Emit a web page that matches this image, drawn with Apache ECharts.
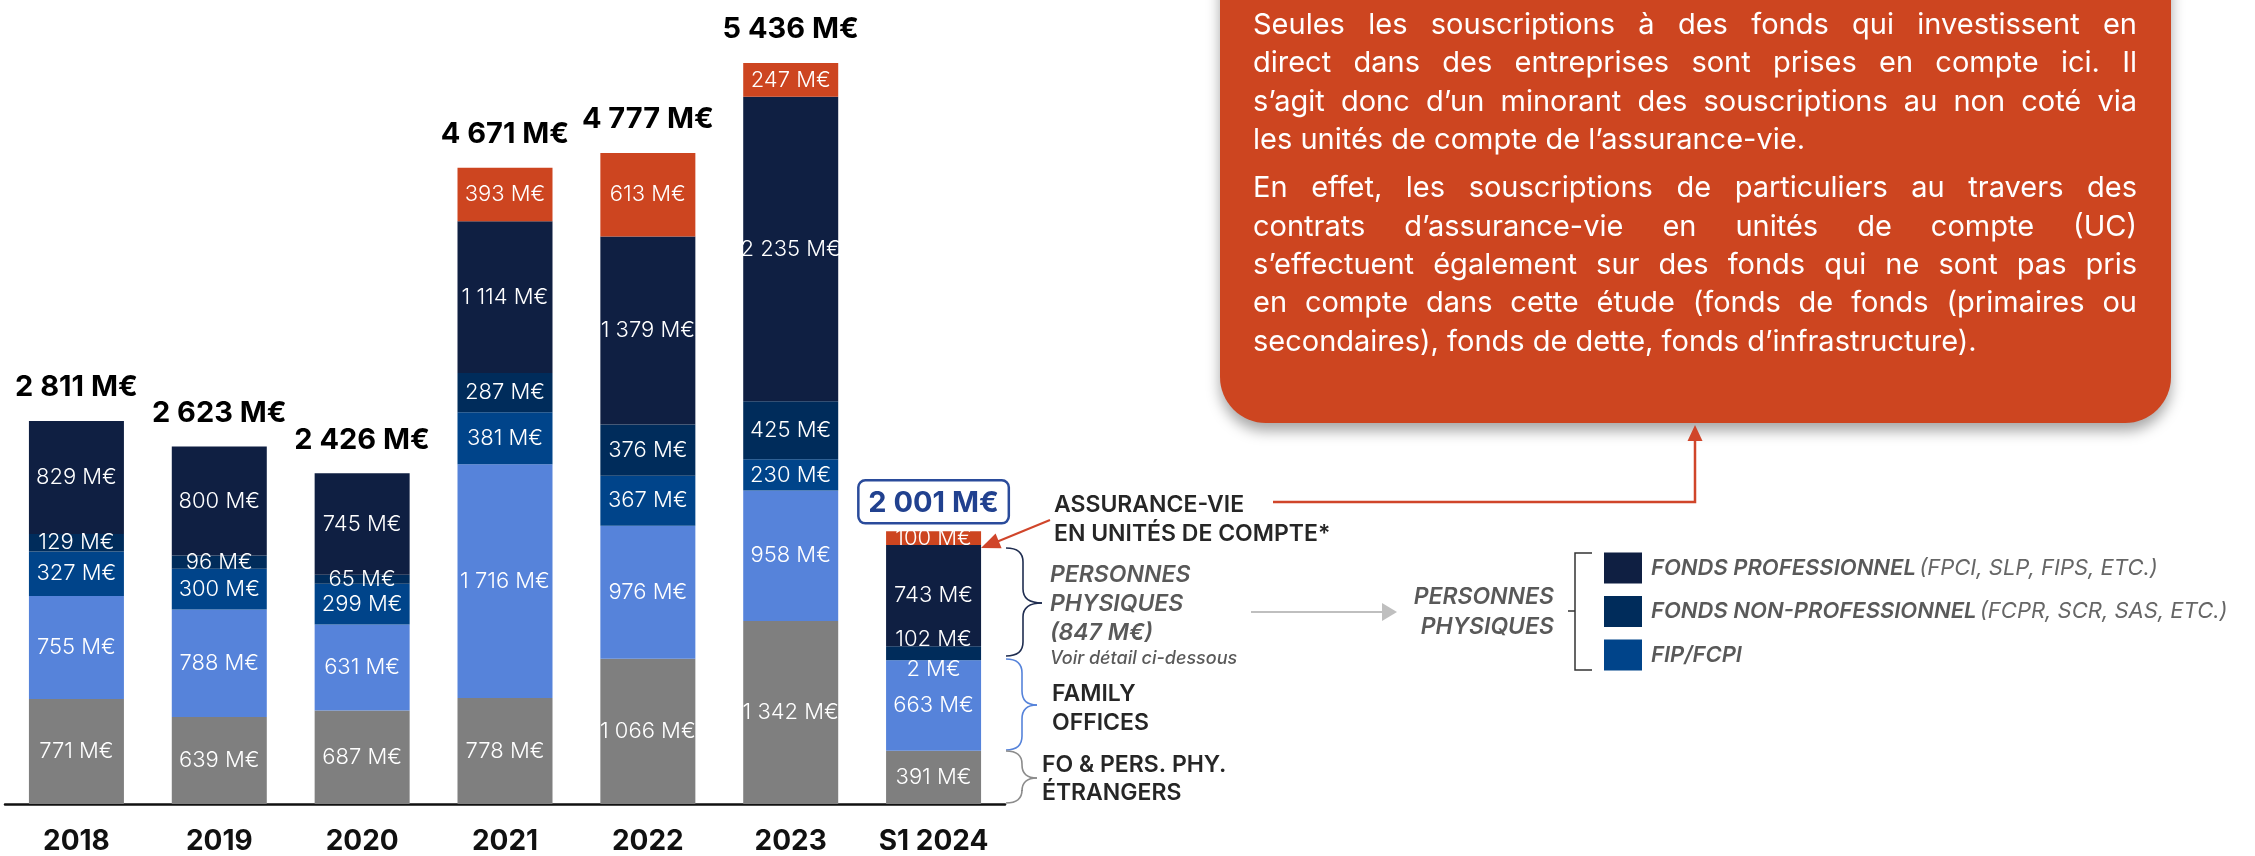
<!DOCTYPE html>
<html>
<head>
<meta charset="utf-8">
<script src="https://cdn.jsdelivr.net/npm/echarts@6/dist/echarts.min.js"></script>
<style>
  html, body { margin: 0; padding: 0; background: #fff; }
  #chart { width: 2255px; height: 856px; }
</style>
</head>
<body>
<div id="chart"></div>
<script>
// values (M€)
const categories = ['2018', '2019', '2020', '2021', '2022', '2023', 'S1 2024'];
const etrangers = [771, 639, 687, 778, 1066, 1342, 391];
const familyOffices = [755, 788, 631, 1716, 976, 958, 663];
const fipFcpi = [327, 300, 299, 381, 367, 230, 2];
const fondsNonPro = [129, 96, 65, 287, 376, 425, 102];
const fondsPro = [829, 800, 745, 1114, 1379, 2235, 743];
const assuranceVie = [null, null, null, 393, 613, 247, 100];
const totals = [2811, 2623, 2426, 4671, 4777, 5436, 2001];

const noteLines = [
  ['Seules les souscriptions à des fonds qui investissent en',
   'direct dans des entreprises sont prises en compte ici. Il',
   's’agit donc d’un minorant des souscriptions au non coté via',
   'les unités de compte de l’assurance-vie.'],
  ['En effet, les souscriptions de particuliers au travers des',
   'contrats d’assurance-vie en unités de compte (UC)',
   's’effectuent également sur des fonds qui ne sont pas pris',
   'en compte dans cette étude (fonds de fonds (primaires ou',
   'secondaires), fonds de dette, fonds d’infrastructure).']
];

const FONT = 'Inter';
const C = {
  gray: '#7f7f7f', light: '#5683da', fip: '#00448a', nonpro: '#002c5b',
  pro: '#0f1f42', orange: '#cd4520', dark: '#262626', mid: '#595959'
};

const chart = echarts.init(document.getElementById('chart'), null, { renderer: 'canvas' });

const thousands = v => String(v).replace(/\B(?=(\d{3})+(?!\d))/g, ' ');

// a few labels in S1 2024 are nudged off-centre in the original
const labelNudge = { fip: { 6: [0, 9] }, nonpro: { 6: [0, -14] } };

function stackSeries(key, name, data, color) {
  const nudge = labelNudge[key] || {};
  return {
    name, type: 'bar', stack: 'all', barWidth: '66.5%', barGap: '-100%',
    data: data.map((v, i) => nudge[i] ? { value: v, label: { offset: nudge[i] } } : v),
    itemStyle: { color },
    label: {
      show: true, position: 'inside', color: '#fff',
      fontFamily: FONT, fontWeight: 300, fontSize: 22,
      formatter: p => thousands(p.value) + ' M€'
    },
    emphasis: { disabled: true }
  };
}

const totalSeries = {
  name: 'total', type: 'bar', barWidth: '66.5%', barGap: '-100%', silent: true, z: 1,
  itemStyle: { color: 'rgba(0,0,0,0)' },
  data: totals.map((v, i) => i === totals.length - 1 ? {
    value: v,
    label: {
      color: '#21418f', borderColor: '#2a4b9b', borderWidth: 2.5, borderRadius: 7,
      padding: [8, 10, 6, 10], distance: 8
    }
  } : v),
  label: {
    show: true, position: 'top', distance: 19, color: '#000',
    fontFamily: FONT, fontWeight: 700, fontSize: 29,
    formatter: p => thousands(p.value) + ' M€'
  }
};

// ---- annotation graphics ----
const graphics = [];

function txt(x, y, text, style) {
  graphics.push({
    type: 'text', x, y, silent: true,
    style: Object.assign({ text, fontFamily: FONT, verticalAlign: 'middle', align: 'left' }, style)
  });
}
function line(x1, y1, x2, y2, stroke, lineWidth) {
  graphics.push({ type: 'line', silent: true, shape: { x1, y1, x2, y2 }, style: { stroke, lineWidth } });
}
function arrowHead(tx, ty, fx, fy, len, half, fill) {
  const dx = tx - fx, dy = ty - fy, d = Math.hypot(dx, dy);
  const ux = dx / d, uy = dy / d;
  const bx = tx - ux * len, by = ty - uy * len;
  graphics.push({
    type: 'polygon', silent: true,
    shape: { points: [[tx, ty], [bx - uy * half, by + ux * half], [bx + uy * half, by - ux * half]] },
    style: { fill }
  });
}
function brace(x0, xm, x1, y1, ym, y2, stroke) {
  const r = Math.min(14, (y2 - y1) / 4);
  const s = { stroke, lineWidth: 1.6, fill: 'none' };
  const q = (ax, ay, cx, cy, bx, by) => graphics.push({
    type: 'bezierCurve', silent: true,
    shape: { x1: ax, y1: ay, cpx1: cx, cpy1: cy, x2: bx, y2: by }, style: s
  });
  q(x0, y1, xm, y1, xm, y1 + r);
  line(xm, y1 + r, xm, ym - r, stroke, 1.6);
  q(xm, ym - r, xm, ym, x1, ym);
  q(x1, ym, xm, ym, xm, ym + r);
  line(xm, ym + r, xm, y2 - r, stroke, 1.6);
  q(xm, y2 - r, xm, y2, x0, y2);
}

// orange note box
graphics.push({
  type: 'rect', silent: true, z: 0,
  shape: { x: 1220, y: -80, width: 951, height: 503, r: 46 },
  style: { fill: C.orange, shadowBlur: 14, shadowOffsetY: 8, shadowColor: 'rgba(0,0,0,0.35)' }
});

// justified note text
(function () {
  const left = 1253, right = 2137, width = right - left;
  const ctx = document.createElement('canvas').getContext('2d');
  let size = 29;
  const measure = (s, sz) => { ctx.font = `normal 400 ${sz}px ${FONT}`; return ctx.measureText(s).width; };
  let widest = 0;
  noteLines.flat().forEach(l => { widest = Math.max(widest, measure(l, size)); });
  if (widest > width) size = Math.floor(size * width / widest * 10) / 10;
  const ys = [[25, 63, 102, 140], [188, 227, 265, 303, 342]];
  noteLines.forEach((para, pi) => {
    para.forEach((l, li) => {
      const y = ys[pi][li];
      const style = { fill: '#fff', fontSize: size, fontWeight: 400 };
      if (li === para.length - 1) { txt(left, y, l, style); return; }
      const words = l.split(' ');
      const ww = words.map(w => measure(w, size));
      const gap = (width - ww.reduce((a, b) => a + b, 0)) / (words.length - 1);
      let x = left;
      words.forEach((w, wi) => { txt(x, y, w, style); x += ww[wi] + gap; });
    });
  });
})();

// arrows
line(1050, 520, 994, 543, '#d0452a', 2);
arrowHead(981, 548, 1050, 520, 19, 8, '#d0452a');
graphics.push({
  type: 'polyline', silent: true,
  shape: { points: [[1273, 502], [1695, 502], [1695, 438]] },
  style: { stroke: '#d0452a', lineWidth: 2.5, fill: 'none' }
});
arrowHead(1695, 425, 1695, 502, 16, 7.5, '#d0452a');
line(1251, 612, 1384, 612, '#bfbfbf', 2);
arrowHead(1397, 612, 1251, 612, 15, 9, '#bfbfbf');

// braces next to S1 2024
brace(1006, 1023, 1042, 548, 603, 656, '#1f2d50');
brace(1006, 1022, 1037, 659, 705, 750, '#5683da');
brace(1006, 1022, 1037, 751, 778, 803, '#8c8c8c');

// texts next to S1 2024
const bold = { fill: C.dark, fontSize: 23, fontWeight: 600 };
const ital = { fill: C.mid, fontSize: 23, fontWeight: 600, fontStyle: 'italic' };
txt(1054, 505, 'ASSURANCE-VIE', bold);
txt(1054, 534, 'EN UNITÉS DE COMPTE*', bold);
txt(1050, 575, 'PERSONNES', ital);
txt(1050, 604, 'PHYSIQUES', ital);
txt(1050, 633, '(847 M€)', ital);
txt(1050, 659, 'Voir détail ci-dessous', { fill: C.mid, fontSize: 18, fontWeight: 500, fontStyle: 'italic' });
txt(1052, 694, 'FAMILY', bold);
txt(1052, 723, 'OFFICES', bold);
txt(1042, 765, 'FO & PERS. PHY.', bold);
txt(1042, 793, 'ÉTRANGERS', bold);

// detail legend for "personnes physiques"
txt(1554, 597, 'PERSONNES', Object.assign({ align: 'right' }, ital));
txt(1554, 627, 'PHYSIQUES', Object.assign({ align: 'right' }, ital));
graphics.push({
  type: 'polyline', silent: true,
  shape: { points: [[1592, 553], [1575, 553], [1575, 670], [1592, 670]] },
  style: { stroke: '#333', lineWidth: 1.5, fill: 'none' }
});
line(1568, 611, 1575, 611, '#333', 1.5);

const detailLegend = [
  { color: C.pro, main: 'FONDS PROFESSIONNEL', sub: '(FPCI, SLP, FIPS, ETC.)' },
  { color: C.nonpro, main: 'FONDS NON-PROFESSIONNEL', sub: '(FCPR, SCR, SAS, ETC.)' },
  { color: C.fip, main: 'FIP/FCPI', sub: '' }
];
detailLegend.forEach((d, i) => {
  const cy = 568 + i * 43.5;
  graphics.push({
    type: 'rect', silent: true,
    shape: { x: 1604, y: cy - 15.5, width: 38, height: 31 }, style: { fill: d.color }
  });
  graphics.push({
    type: 'text', x: 1651, y: cy, silent: true,
    style: {
      text: `{b|${d.main}}` + (d.sub ? ` {l|${d.sub}}` : ''),
      verticalAlign: 'middle',
      rich: {
        b: { fontFamily: FONT, fontSize: 22, fontWeight: 600, fontStyle: 'italic', fill: C.mid },
        l: { fontFamily: FONT, fontSize: 22, fontWeight: 400, fontStyle: 'italic', fill: '#666' }
      }
    }
  });
});

chart.setOption({
  animation: false,
  grid: { left: 5, right: 1250, top: 0, bottom: 52 },
  xAxis: {
    type: 'category', data: categories,
    axisTick: { show: false },
    axisLine: { lineStyle: { color: '#111', width: 2.5 } },
    axisLabel: { fontFamily: FONT, fontWeight: 700, fontSize: 28, color: '#111', margin: 24 }
  },
  yAxis: { type: 'value', min: 0, max: 5900, show: false },
  series: [
    totalSeries,
    stackSeries('gray', 'FO & pers. phy. étrangers', etrangers, C.gray),
    stackSeries('light', 'Family offices', familyOffices, C.light),
    stackSeries('fip', 'FIP/FCPI', fipFcpi, C.fip),
    stackSeries('nonpro', 'Fonds non-professionnel', fondsNonPro, C.nonpro),
    stackSeries('pro', 'Fonds professionnel', fondsPro, C.pro),
    stackSeries('av', 'Assurance-vie en UC', assuranceVie, C.orange)
  ],
  graphic: graphics
});
</script>
</body>
</html>
